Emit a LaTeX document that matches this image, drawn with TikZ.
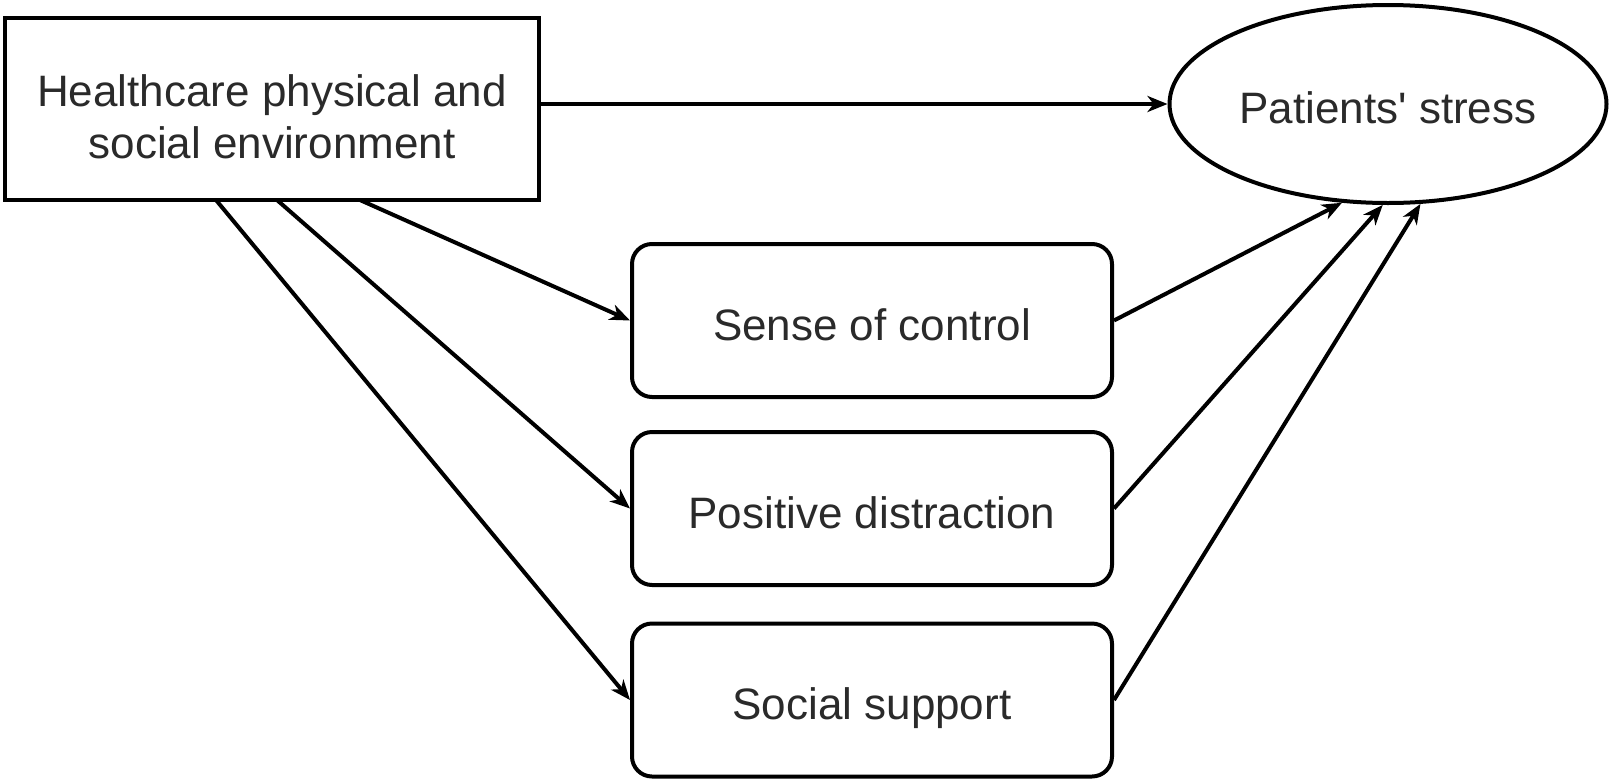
\documentclass[tikz,border=0pt]{standalone}
\usepackage{fontspec}
\setmainfont{Liberation Sans}
\usetikzlibrary{arrows.meta,shapes.geometric}
\definecolor{txt}{HTML}{2A2A2A}
\begin{document}
\begin{tikzpicture}[x=0.5pt,y=-0.5pt,
  every node/.style={font=\fontsize{22}{26}\selectfont, text=txt, align=center, inner sep=0pt},
  envbox/.style={draw=black, line width=2pt, minimum width=267pt, minimum height=90.75pt},
  medbox/.style={draw=black, line width=2pt, rounded corners=10pt, minimum width=240pt, minimum height=76.5pt, text height=19.5pt, text depth=0pt},
  outell/.style={draw=black, line width=2pt, ellipse, minimum width=218.5pt, minimum height=99pt, text height=19pt, text depth=0pt},
  conn/.style={draw=black, line width=2pt, -{Stealth[length=10pt,width=8pt,inset=3pt]}}
]
\useasboundingbox (0,0) rectangle (1611,782);
\fill[white] (0,0) rectangle (1611,782);
\node[envbox] (h) at (272,109) {};
\node (ht) at ([yshift=-3.8pt]h.center) {Healthcare physical and\\social environment};
\node[outell] (p) at (1388,104) {Patients\textquotesingle{} stress};
\node[medbox] (s) at (872,320.5) {Sense of control};
\node[medbox] (d) at (872,508.5) {Positive distraction};
\node[medbox] (u) at (872,700) {Social support};
\coordinate (h1) at (360,200);
\coordinate (h2) at (277,200);
\coordinate (h3) at (216,200);
\path[conn] (h.east |- p.west) -- (p.west);
\path[conn] (h1) -- (s.west);
\path[conn] (h2) -- (d.west);
\path[conn] (h3) -- (u.west);
\path[conn] (s.east) -- (p.-115);
\path[conn] (d.east) -- (p.-93);
\path[conn] (u.east) -- (p.-72);
\end{tikzpicture}
\end{document}
